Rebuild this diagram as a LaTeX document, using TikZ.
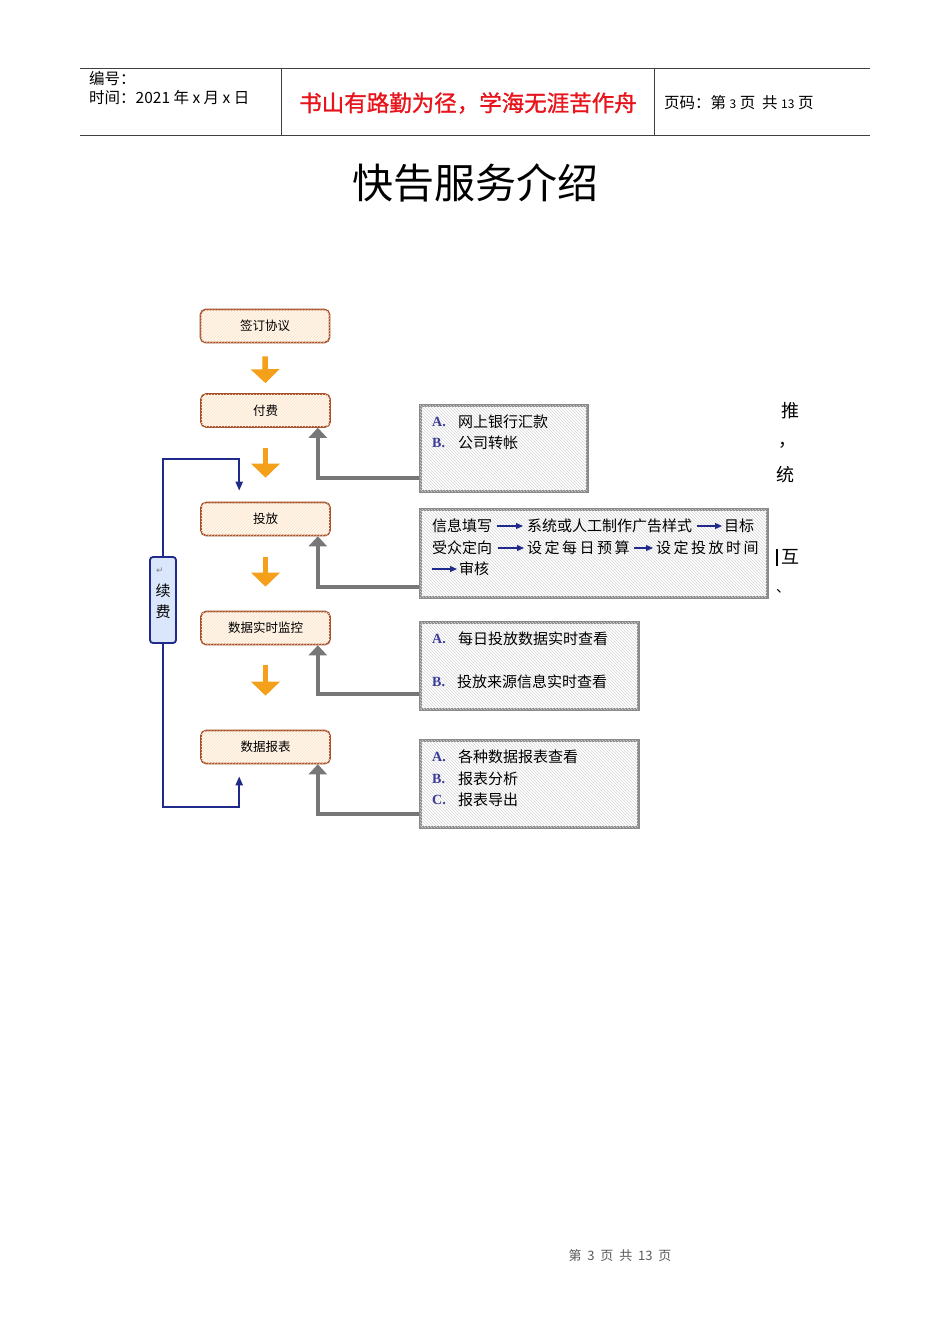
\documentclass[tikz,border=0pt]{standalone}
\usepackage{fontspec}
\setmainfont{Noto Sans CJK SC}
\newfontfamily\lserif{Liberation Serif}
\newfontfamily\dejavu{DejaVu Sans}
\newfontfamily\cjkbold[FakeBold=1.2]{Noto Sans CJK SC}
\usetikzlibrary{arrows.meta,patterns,calc}
\definecolor{orng}{HTML}{F5A01A}
\definecolor{brn}{HTML}{A5502A}
\definecolor{peach}{HTML}{FEF7EE}
\definecolor{gbord}{HTML}{8A8A8A}
\definecolor{garr}{HTML}{777777}
\definecolor{navy}{HTML}{1F2A8A}
\definecolor{lblue}{HTML}{D9E6FB}
\definecolor{redt}{HTML}{E8141B}
\definecolor{ltr}{HTML}{3A3A99}
\tikzset{
  flowbox/.style={draw=brn, line width=1.6pt, rounded corners=5pt, fill=peach,
    postaction={pattern=north east lines, pattern color=orange!22},
    minimum width=129pt, minimum height=33pt, inner sep=0pt,
    font=\fontsize{12.5}{14}\selectfont},
  graybox/.style={draw=gbord, line width=3pt, fill=white,
    postaction={pattern=north west lines, pattern color=black!16}, inner sep=0pt},
  downarr/.style={draw=orng, line width=5.5pt, -{Triangle[width=28pt,length=14pt]}},
  grayarr/.style={draw=garr, line width=4pt, -{Triangle[width=18pt,length=10pt]}},
  bluearr/.style={draw=navy, line width=2pt, -{Triangle[width=7pt,length=9pt]}},
  smallarr/.style={draw=navy, line width=1.2pt, -{Triangle[width=6pt,length=7pt]}},
  itxt/.style={anchor=west, inner sep=0pt, font=\fontsize{15}{17}\selectfont},
  ltxt/.style={anchor=west, inner sep=0pt, text=ltr, font=\lserif\bfseries\fontsize{14}{16}\selectfont},
  hdr/.style={anchor=west, inner sep=0pt, font=\fontsize{15.5}{17}\selectfont},
  stray/.style={inner sep=0pt, font=\fontsize{18}{20}\selectfont},
}
\begin{document}
\begin{tikzpicture}[x=1pt,y=-1pt]
\useasboundingbox[fill=white] (0,0) rectangle (950,1344);

% header
\draw[line width=0.9pt, black!75] (80,68) -- (870,68);
\draw[line width=0.9pt, black!75] (80,135) -- (870,135);
\draw[line width=0.9pt, black!75] (281,68) -- (281,135);
\draw[line width=0.9pt, black!75] (654,68) -- (654,135);
\node[hdr] (h1) at (89,79) {编号：};
\node[hdr] (h2) at (89,98) {时间：2021\ 年\ x\ 月\ x\ 日};
\node[inner sep=0pt, text=redt, font=\cjkbold\fontsize{22.5}{25}\selectfont] (h3) at (468,103) {书山有路勤为径，学海无涯苦作舟};
\node[hdr] (h4) at (664,103) {页码：第\ {\fontsize{12}{14}\selectfont 3}\ 页\ \ 共\ {\fontsize{12}{14}\selectfont 13}\ 页};

% title
\node[inner sep=0pt, font=\fontsize{41}{45}\selectfont] (title) at (475,183) {快告服务介绍};

% flow boxes
\node[flowbox] (n1) at (265,326) {签订协议};
\node[flowbox] (n2) at (265.5,410.5) {付费};
\node[flowbox] (n3) at (265.5,519) {投放};
\node[flowbox] (n4) at (265.5,628) {数据实时监控};
\node[flowbox] (n5) at (265.5,747) {数据报表};

% orange arrows
\draw[downarr] ($(n1.south)+(0,13)$) -- ($(n2.north)+(0,-10)$);
\draw[downarr] ($(n2.south)+(0,20)$) -- ($(n3.north)+(0,-24)$);
\draw[downarr] ($(n3.south)+(0,21)$) -- ($(n4.north)+(0,-24)$);
\draw[downarr] ($(n4.south)+(0,20)$) -- ($(n5.north)+(0,-34)$);

% gray boxes
\node[graybox, minimum width=167pt, minimum height=86pt] (g1) at (503.5,448) {};
\node[graybox, minimum width=347pt, minimum height=88pt] (g2) at (593.5,553) {};
\node[graybox, minimum width=218pt, minimum height=87pt] (g3) at (529,665.5) {};
\node[graybox, minimum width=218pt, minimum height=87pt] (g4) at (529,783.5) {};

% gray connectors
\draw[grayarr] ($(g1.south west)+(0,-15)$) -| ($(n2.south east)+(-13,0)$);
\draw[grayarr] ($(g2.south west)+(0,-12)$) -| ($(n3.south east)+(-13,0)$);
\draw[grayarr] ($(g3.south west)+(0,-17)$) -| ($(n4.south east)+(-13,0)$);
\draw[grayarr] ($(g4.south west)+(0,-15)$) -| ($(n5.south east)+(-13,0)$);

% gray box 1 text
\node[ltxt] (a1) at (432,422) {A.};
\node[itxt] (a1t) at (458,422) {网上银行汇款};
\node[ltxt] (b1) at (432,443) {B.};
\node[itxt] (b1t) at (458,443) {公司转帐};

% gray box 2 text
\node[itxt] (t11) at (432,526) {信息填写};
\node[itxt] (t12) at (527,526) {系统或人工制作广告样式};
\node[itxt] (t13) at (724,526) {目标};
\draw[smallarr] ($(t11.east)+(5,0)$) -- ($(t12.west)+(-4,0)$);
\draw[smallarr] ($(t12.east)+(5,0)$) -- ($(t13.west)+(-2,0)$);
\node[itxt] (t21) at (432,548) {受众定向};
\node[itxt] (t22) at (527,548) {设\,定\,每\,日\,预\,算};
\node[itxt] (t23) at (656,548) {设\,定\,投\,放\,时\,间};
\draw[smallarr] ($(t21.east)+(6,0)$) -- ($(t22.west)+(-3,0)$);
\draw[smallarr] ($(t22.east)+(4,0)$) -- ($(t23.west)+(-3,0)$);
\coordinate (c31) at (432,569);
\node[itxt] (t31) at (459,569) {审核};
\draw[smallarr] (c31) -- ($(t31.west)+(-2,0)$);

% gray box 3 text
\node[ltxt] (a3) at (432,639) {A.};
\node[itxt] (a3t) at (458,639) {每日投放数据实时查看};
\node[ltxt] (b3) at (432,682) {B.};
\node[itxt] (b3t) at (457,682) {投放来源信息实时查看};

% gray box 4 text
\node[ltxt] (a4) at (432,757) {A.};
\node[itxt] (a4t) at (458,757) {各种数据报表查看};
\node[ltxt] (b4) at (432,779) {B.};
\node[itxt] (b4t) at (458,779) {报表分析};
\node[ltxt] (c4) at (432,800) {C.};
\node[itxt] (c4t) at (458,800) {报表导出};

% renewal loop
\node[draw=navy, line width=1.8pt, fill=lblue, rounded corners=3pt,
      minimum width=26pt, minimum height=86pt, inner sep=0pt] (r) at (163,600) {};
\node[inner sep=0pt, text=black!50, font=\dejavu\fontsize{9}{10}\selectfont] (rs) at (160,571) {↵};
\node[inner sep=0pt, font=\fontsize{15}{17}\selectfont] (r1) at (163,591) {续};
\node[inner sep=0pt, font=\fontsize{15}{17}\selectfont] (r2) at (163,612) {费};
\draw[bluearr] (r.north) |- ($(n3.north west)+(39,-43)$) -- ($(n3.north west)+(39,-11)$);
\draw[bluearr] (r.south) |- ($(n5.south west)+(39,43)$) -- ($(n5.south west)+(39,12)$);

% stray text on the right
\node[stray] (s1) at (790,411) {推};
\node[stray] (s2) at (787,445) {，};
\node[stray] (s3) at (785,475) {统};
\node[stray] (s4) at (790,557) {互};
\draw[line width=1.5pt] (777,549) -- (777,566);
\node[stray, font=\fontsize{14}{16}\selectfont] (s5) at (783,591) {、};

% footer
\node[inner sep=0pt, text=black!65, font=\fontsize{13}{15}\selectfont] (foot) at (620,1256) {第\ \ 3\ \ 页\ \ 共\ \ 13\ \ 页};
\end{tikzpicture}
\end{document}
